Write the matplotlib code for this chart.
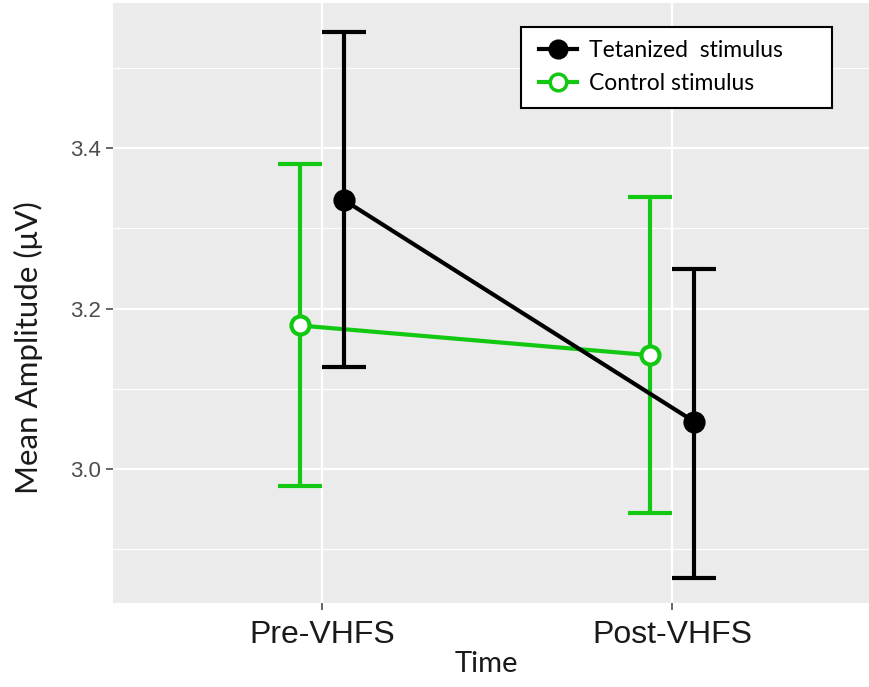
import matplotlib
matplotlib.use("Agg")
import matplotlib.pyplot as plt
import numpy as np
from matplotlib.lines import Line2D
from matplotlib.patches import Rectangle

# values
times = ["Pre-VHFS", "Post-VHFS"]
tet_mean = [3.335, 3.059]
tet_low = [3.127, 2.864]
tet_high = [3.545, 3.250]
ctrl_mean = [3.179, 3.142]
ctrl_low = [2.979, 2.945]
ctrl_high = [3.380, 3.339]
series_names = ["Tetanized  stimulus", "Control stimulus"]

black = "#000000"
green = "#12c812"
dodge = 0.064

fig = plt.figure(figsize=(8.69, 6.87), dpi=100)
ax = fig.add_axes([113 / 869, 1 - 603 / 687, 1 - 113 / 869, 600 / 687])
ax.set_facecolor("#ebebeb")
for s in ax.spines.values():
    s.set_visible(False)

x = np.arange(1, len(times) + 1)


def draw(xpos, mean, low, high, color, face, z):
    mean = np.array(mean)
    err = [mean - np.array(low), np.array(high) - mean]
    ax.errorbar(xpos, mean, yerr=err, fmt="none", ecolor=color, elinewidth=3,
                capsize=16, capthick=3, zorder=z)
    ax.plot(xpos, mean, color=color, lw=3, marker="o", ms=13, mfc=face,
            mec=color, mew=3, zorder=z + 0.5)


draw(x - dodge, ctrl_mean, ctrl_low, ctrl_high, green, "white", 3)
draw(x + dodge, tet_mean, tet_low, tet_high, black, black, 5)

ax.set_xlim(0.403, 2.563)
ax.set_ylim(2.833, 3.581)
ax.set_xticks(x)
ax.set_xticklabels(times, fontsize=23, color="#1a1a1a", family="Liberation Sans")
ax.set_yticks([3.0, 3.2, 3.4])
ax.set_yticklabels(["3.0", "3.2", "3.4"], fontsize=16, color="#4d4d4d",
                   family="Liberation Sans")
ax.set_yticks([2.9, 3.1, 3.3, 3.5], minor=True)
ax.tick_params(axis="both", which="major", length=5, width=1.2, color="#4d4d4d")
ax.tick_params(axis="x", pad=7)
ax.tick_params(axis="y", pad=4)
ax.tick_params(axis="y", which="minor", length=0)
ax.grid(which="major", color="white", lw=1.6, zorder=0)
ax.grid(which="minor", axis="y", color="white", lw=0.8, zorder=0)
ax.set_axisbelow(True)

fig.text(28 / 869, 1 - 348 / 687, "Mean Amplitude (\u03bcV)", rotation=90,
         ha="center", va="center", fontsize=22.5, family="Lato", color="#1a1a1a")
fig.text(486 / 869, 1 - 664 / 687, "Time", ha="center", va="center",
         fontsize=21, family="Lato", color="#1a1a1a")

# legend box (larger than its contents, as in the pasted original)
fig.patches.append(Rectangle((521 / 869, 1 - 108 / 687), 311 / 869, 81 / 687,
                             transform=fig.transFigure, facecolor="white",
                             edgecolor="black", lw=1.5, zorder=10))
handles = [
    Line2D([], [], color=black, lw=3, marker="o", ms=12, mfc=black, mec=black, mew=2.5),
    Line2D([], [], color=green, lw=3, marker="o", ms=12, mfc="white", mec=green, mew=2.5),
]
leg = fig.legend(handles, series_names, loc="upper left",
                 bbox_to_anchor=(532 / 869, 1 - 33 / 687), borderaxespad=0,
                 frameon=False, prop={"family": "Lato", "size": 16.5},
                 handlelength=1.65, handletextpad=0.55, borderpad=0.3,
                 labelspacing=0.55)
leg.set_zorder(11)

fig.savefig("out.png", dpi=100)
